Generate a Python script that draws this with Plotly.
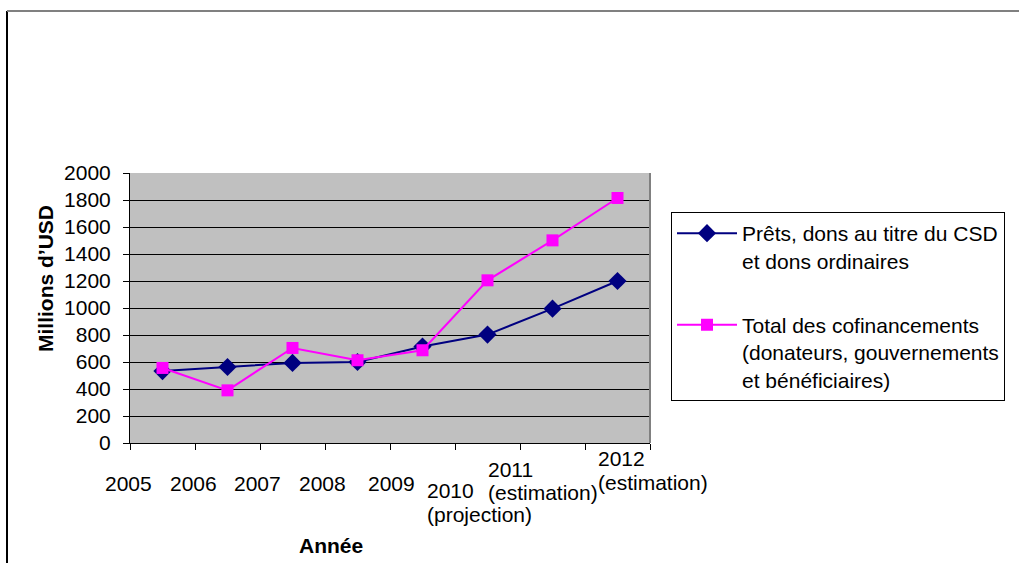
import plotly.graph_objects as go

years = ["2005", "2006", "2007", "2008", "2009",
         "2010\n(projection)", "2011\n(estimation)", "2012\n(estimation)"]
prets = [533, 563, 593, 600, 715, 803, 995, 1200]
cofin = [556, 390, 704, 613, 687, 1205, 1501, 1815]
series_names = ["Prêts, dons au titre du CSD<br>et dons ordinaires",
                "Total des cofinancements<br>(donateurs, gouvernements<br>et bénéficiaires)"]
y_ticks = list(range(0, 2001, 200))

W, H = 1019, 563
L, R, T, B = 130, 650, 173, 443
FONT = "Liberation Sans, Arial, sans-serif"
FS = 21

def px(x):
    return (x - L) / (R - L)

def py(y):
    return (B - y) / (B - T)

xs = list(range(len(years)))

fig = go.Figure()
fig.add_trace(go.Scatter(x=xs, y=prets, name=series_names[0], mode="lines+markers",
                         line=dict(color="#000080", width=2),
                         marker=dict(symbol="diamond", size=14, color="#000080"),
                         legendgroup="a"))
fig.add_trace(go.Scatter(x=xs, y=cofin, name=series_names[1], mode="lines+markers",
                         line=dict(color="#FF00FF", width=2),
                         marker=dict(symbol="square", size=12, color="#FF00FF"),
                         legendgroup="b"))

# x labels positions (pixel layout, Excel style staggering)
label_layout = [
    [(128, 483, "center")],
    [(193, 483, "center")],
    [(257, 483, "center")],
    [(322, 483, "center")],
    [(391, 483, "center")],
    [(425, 490, "left"), (425, 514, "left")],
    [(486, 469, "left"), (486, 492, "left")],
    [(596, 458, "left"), (596, 482, "left")],
]
annotations = []
for lab, pos in zip(years, label_layout):
    for line, (lx, ly, anc) in zip(lab.split("\n"), pos):
        annotations.append(dict(text=line, x=px(lx), y=py(ly), xref="paper", yref="paper",
                                xanchor=anc, yanchor="middle", showarrow=False,
                                font=dict(family=FONT, size=FS, color="black")))
annotations.append(dict(text="<b>Millions d’USD</b>", x=px(45), y=py(279), xref="paper", yref="paper",
                        textangle=-90, xanchor="center", yanchor="middle", showarrow=False,
                        font=dict(family=FONT, size=FS, color="black")))
annotations.append(dict(text="<b>Année</b>", x=px(331), y=py(545), xref="paper", yref="paper",
                        xanchor="center", yanchor="middle", showarrow=False,
                        font=dict(family=FONT, size=FS, color="black")))

shapes = [
    dict(type="line", xref="paper", yref="paper", x0=px(7), x1=px(7), y0=py(11), y1=py(600),
         line=dict(color="black", width=2)),
    dict(type="line", xref="paper", yref="paper", x0=px(7), x1=px(1100), y0=py(11), y1=py(11),
         line=dict(color="#808080", width=2)),
    dict(type="line", xref="paper", yref="paper", x0=1, x1=1, y0=0, y1=1,
         line=dict(color="#808080", width=2)),
]

fig.update_layout(
    width=W, height=H,
    margin=dict(l=L, r=W - R, t=T, b=H - B, pad=0, autoexpand=False),
    paper_bgcolor="white", plot_bgcolor="#C0C0C0",
    font=dict(family=FONT, size=FS, color="black"),
    showlegend=True,
    legend=dict(x=px(671), y=py(212), xanchor="left", yanchor="top",
                bgcolor="white", bordercolor="black", borderwidth=1,
                font=dict(family=FONT, size=FS, color="black"),
                tracegroupgap=34, valign="top", traceorder="grouped",
                itemwidth=60),
    annotations=annotations, shapes=shapes,
    xaxis=dict(range=[-0.5, len(years) - 0.5], tickvals=[i - 0.5 for i in range(len(years) + 1)],
               showticklabels=False, ticks="outside", ticklen=6, tickcolor="black",
               showline=True, linecolor="black", linewidth=1, showgrid=False, zeroline=False,
               fixedrange=True),
    yaxis=dict(range=[0, 2000], tickvals=y_ticks, ticks="outside", ticklen=6, tickcolor="black",
               showline=True, linecolor="black", linewidth=1, showgrid=True,
               gridcolor="black", gridwidth=1, zeroline=False, ticklabelstandoff=8,
               tickfont=dict(family=FONT, size=FS, color="black")),
)

fig.write_html("out.html")
